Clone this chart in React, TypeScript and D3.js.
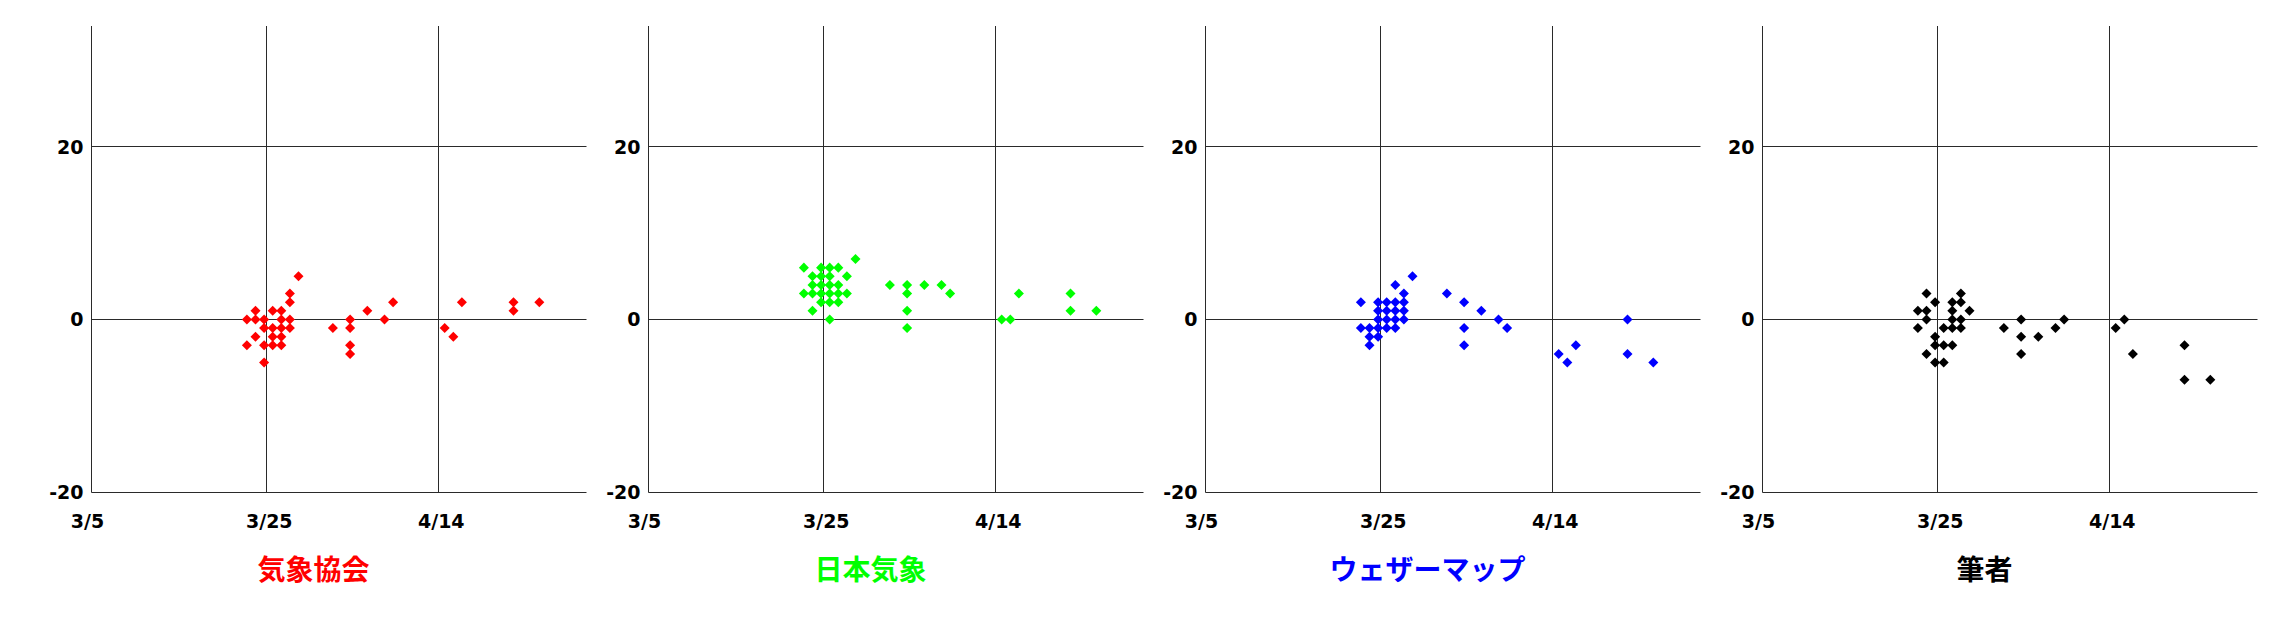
import React from "react";
import * as d3 from "d3";

const seriesNames = ["気象協会", "日本気象", "ウェザーマップ", "筆者"];
const seriesColors = ["#ff0000", "#00ff00", "#0000ff", "#000000"];

const kyokaiDates = ["3/23","3/23","3/24","3/24","3/24","3/25","3/25","3/25","3/25","3/26","3/26","3/26","3/26","3/27","3/27","3/27","3/27","3/27","3/28","3/28","3/28","3/28","3/29","4/2","4/4","4/4","4/4","4/4","4/6","4/8","4/9","4/15","4/16","4/17","4/23","4/23","4/26"];
const kyokaiValues = [0,-3, 1,0,-2, 0,-1,-3,-5, 1,-1,-2,-3, 1,0,-1,-2,-3, 3,2,0,-1, 5, -1, 0,-1,-3,-4, 1, 0, 2, -1, -2, 2, 2,1, 2];

const nihonDates = ["3/23","3/23","3/24","3/24","3/24","3/24","3/25","3/25","3/25","3/25","3/25","3/26","3/26","3/26","3/26","3/26","3/26","3/27","3/27","3/27","3/27","3/28","3/28","3/29","4/2","4/4","4/4","4/4","4/4","4/6","4/8","4/9","4/15","4/16","4/17","4/23","4/23","4/26"];
const nihonValues = [6,3, 5,4,3,1, 6,5,4,3,2, 6,5,4,3,2,0, 6,4,3,2, 5,3, 7, 4, 4,3,1,-1, 4, 4, 3, 0, 0, 3, 3,1, 1];

const weatherDates = ["3/23","3/23","3/24","3/24","3/24","3/25","3/25","3/25","3/25","3/25","3/26","3/26","3/26","3/26","3/27","3/27","3/27","3/27","3/27","3/28","3/28","3/28","3/28","3/29","4/2","4/4","4/4","4/4","4/6","4/8","4/9","4/15","4/16","4/17","4/23","4/23","4/26"];
const weatherValues = [2,-1, -1,-2,-3, 2,1,0,-1,-2, 2,1,0,-1, 4,2,1,0,-1, 3,2,1,0, 5, 3, 2,-1,-3, 1, 0, -1, -4, -5, -3, 0,-4, -5];

const authorDates = ["3/23","3/23","3/24","3/24","3/24","3/24","3/25","3/25","3/25","3/25","3/26","3/26","3/26","3/27","3/27","3/27","3/27","3/27","3/28","3/28","3/28","3/28","3/29","4/2","4/4","4/4","4/4","4/6","4/8","4/9","4/15","4/16","4/17","4/23","4/23","4/26"];
const authorValues = [1,-1, 3,1,0,-4, 2,-2,-3,-5, -1,-3,-5, 2,1,0,-1,-3, 3,2,0,-1, 1, -1, 0,-2,-4, -2, -1, 0, -1, 0, -4, -3,-7, -7];

const xTickLabels = ["3/5", "3/25", "4/14"];
const yTicks = [-20, 0, 20];
const yDomain = [-20, 34];

const seriesDates = [kyokaiDates, nihonDates, weatherDates, authorDates];
const seriesValues = [kyokaiValues, nihonValues, weatherValues, authorValues];

const parseMD = (s: string) => {
  const [m, d] = s.split("/").map(Number);
  return new Date(Date.UTC(2000, m - 1, d));
};

const WIDTH = 2296;
const HEIGHT = 624;
const PANEL_STEP = 557;
const FIRST_LEFT = 91.5;
const PLOT_W = 495;
const TOP = 26;
const BOTTOM = 492;
const LINE = "#2a2a2a";
const labelFont = "'DejaVu Sans', Verdana, sans-serif";
const titleFont = "'Noto Sans CJK JP', 'Noto Sans CJK SC', sans-serif";

const diamond = d3.symbol().type(d3.symbolDiamond2).size(64)();

function Panel({ index }: { index: number }) {
  const L = FIRST_LEFT + PANEL_STEP * index;
  const tickDates = xTickLabels.map(parseMD);
  const x = d3
    .scaleUtc()
    .domain([tickDates[0], tickDates[tickDates.length - 1]])
    .range([L + 2.8, L + 2.8 + 344]);
  const y = d3.scaleLinear().domain(yDomain).range([BOTTOM, TOP]);
  const crisp = (v: number) => Math.floor(v) + 0.5;
  const dates = seriesDates[index];
  const values = seriesValues[index];
  const color = seriesColors[index];
  const right = L + PLOT_W;

  return (
    <g>
      {yTicks.map((t) => (
        <line key={"h" + t} x1={L} x2={right} y1={crisp(y(t))} y2={crisp(y(t))} stroke={LINE} strokeWidth={1} />
      ))}
      <line x1={L} x2={L} y1={TOP} y2={crisp(y(yDomain[0]))} stroke={LINE} strokeWidth={1} />
      {tickDates.slice(1).map((t, i) => (
        <line key={"v" + i} x1={crisp(x(t))} x2={crisp(x(t))} y1={TOP} y2={crisp(y(yDomain[0]))} stroke={LINE} strokeWidth={1} />
      ))}
      {yTicks.map((t) => (
        <text key={"yl" + t} x={L - 8} y={y(t) + 7} textAnchor="end" fontFamily={labelFont} fontWeight="bold" fontSize={19} fill="#000">
          {t}
        </text>
      ))}
      {tickDates.map((t, i) => (
        <text key={"xl" + i} x={i === 0 ? L - 4 : x(t) + 3} y={528} textAnchor="middle" fontFamily={labelFont} fontWeight="bold" fontSize={19} fill="#000">
          {xTickLabels[i]}
        </text>
      ))}
      {dates.map((d, i) => (
        <path key={"p" + i} d={diamond as string} transform={`translate(${x(parseMD(d)) - 2.2},${y(values[i])})`} fill={color} />
      ))}
      <text x={L + 222} y={580} textAnchor="middle" fontFamily={titleFont} fontWeight="bold" fontSize={28} fill={color}>
        {seriesNames[index]}
      </text>
    </g>
  );
}

export default function App() {
  return (
    <svg width={WIDTH} height={HEIGHT} style={{ position: "absolute", left: 0, top: 0, background: "#fff" }}>
      <rect x={0} y={0} width={WIDTH} height={HEIGHT} fill="#fff" />
      {seriesNames.map((_, i) => (
        <Panel key={i} index={i} />
      ))}
    </svg>
  );
}
